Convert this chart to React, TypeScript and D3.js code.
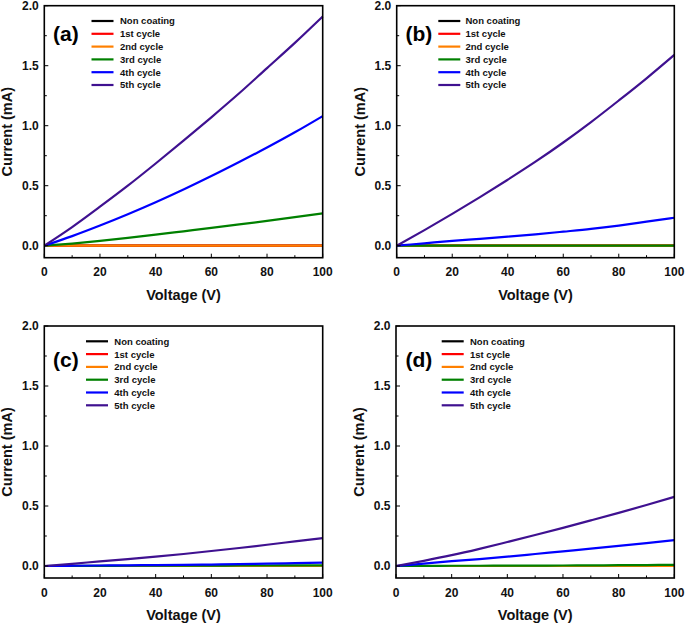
import React from "react";
import * as d3 from "d3";

const voltage = [0, 10, 20, 30, 40, 50, 60, 70, 80, 90, 100];
const seriesNames = ["Non coating", "1st cycle", "2nd cycle", "3rd cycle", "4th cycle", "5th cycle"];
const seriesColors = ["#000000", "#ff0000", "#ff8000", "#008000", "#0000ff", "#3f1190"];
const panelLabels = ["(a)", "(b)", "(c)", "(d)"];
const xTicks = [0, 20, 40, 60, 80, 100];
const xMinor = [10, 30, 50, 70, 90];
const yTicks = [0, 0.5, 1.0, 1.5, 2.0];
const yMinor = [0.25, 0.75, 1.25, 1.75];

const zero = [0, 0, 0, 0, 0, 0, 0, 0, 0, 0, 0];

// panel (a)
const aThird = [0, 0.018, 0.04, 0.065, 0.092, 0.12, 0.148, 0.177, 0.207, 0.238, 0.27];
const aFourth = [0, 0.08, 0.168, 0.262, 0.362, 0.468, 0.58, 0.697, 0.818, 0.945, 1.08];
const aFifth = [0, 0.155, 0.325, 0.5, 0.685, 0.875, 1.07, 1.27, 1.48, 1.69, 1.91];
// panel (b)
const bFourth = [0, 0.02, 0.04, 0.057, 0.075, 0.095, 0.117, 0.14, 0.168, 0.2, 0.233];
const bFifth = [0, 0.13, 0.265, 0.405, 0.55, 0.7, 0.86, 1.03, 1.21, 1.395, 1.59];
// panel (c)
const cThird = [0, 0.001, 0.001, 0.002, 0.002, 0.003, 0.003, 0.004, 0.004, 0.005, 0.005];
const cFourth = [0, 0.002, 0.004, 0.006, 0.007, 0.009, 0.012, 0.015, 0.02, 0.024, 0.028];
const cFifth = [0, 0.018, 0.039, 0.058, 0.078, 0.1, 0.125, 0.15, 0.177, 0.205, 0.233];
// panel (d)
const dThird = [0, 0.001, 0.002, 0.002, 0.003, 0.003, 0.004, 0.005, 0.007, 0.008, 0.01];
const dFourth = [0, 0.02, 0.04, 0.058, 0.078, 0.1, 0.122, 0.144, 0.167, 0.191, 0.216];
const dFifth = [0, 0.043, 0.09, 0.143, 0.2, 0.258, 0.318, 0.38, 0.443, 0.508, 0.576];

const panelData = [
  [zero, zero, zero, aThird, aFourth, aFifth],
  [zero, zero, zero, zero, bFourth, bFifth],
  [zero, zero, zero, cThird, cFourth, cFifth],
  [zero, zero, zero, dThird, dFourth, dFifth],
];

// layout (pixels)
const layouts = [
  { left: 44.3, right: 322.7, top: 5.7, legLine: 91.5, legText: 120, labelX: 53, labelDy: 35 },
  { left: 396.7, right: 674.3, top: 5.7, legLine: 438.3, legText: 465.5, labelX: 405.5, labelDy: 35 },
  { left: 44.3, right: 322.7, top: 326, legLine: 86, legText: 114.3, labelX: 53, labelDy: 40.5 },
  { left: 396, right: 674.3, top: 326, legLine: 441.7, legText: 470, labelX: 405.5, labelDy: 40.5 },
];

const FONT = "'Liberation Sans', Arial, sans-serif";

function Panel({ idx }: { idx: number }) {
  const L = layouts[idx];
  const bottom = L.top + 252;
  const x = d3.scaleLinear().domain([0, 100]).range([L.left, L.right]);
  const y = d3.scaleLinear().domain([-0.1, 2.0]).range([bottom, L.top]);
  const line = d3
    .line<number>()
    .x((_, i) => x(voltage[i]))
    .y((d) => y(d))
    .curve(d3.curveMonotoneX);
  const data = panelData[idx];
  const midX = (L.left + L.right) / 2;
  const midY = (L.top + bottom) / 2;
  return (
    <g>
      {data.map((vals, s) => (
        <path key={s} d={line(vals) || ""} fill="none" stroke={seriesColors[s]} strokeWidth={2.2} />
      ))}
      <rect x={L.left} y={L.top} width={L.right - L.left} height={bottom - L.top} fill="none" stroke="#000" strokeWidth={1.6} />
      {xTicks.map((t) => (
        <g key={"xt" + t}>
          <line x1={x(t)} x2={x(t)} y1={bottom} y2={bottom - 4} stroke="#000" strokeWidth={1} />
          <text x={x(t)} y={bottom + 18.5} textAnchor="middle" fontFamily={FONT} fontWeight="bold" fontSize={12} fill="#111">
            {t}
          </text>
        </g>
      ))}
      {xMinor.map((t) => (
        <line key={"xm" + t} x1={x(t)} x2={x(t)} y1={bottom} y2={bottom - 2.5} stroke="#000" strokeWidth={1} />
      ))}
      {yTicks.map((t) => (
        <g key={"yt" + t}>
          <line x1={L.left} x2={L.left + 4} y1={y(t)} y2={y(t)} stroke="#000" strokeWidth={1} />
          <text x={L.left - 5.5} y={y(t) + 4.2} textAnchor="end" fontFamily={FONT} fontWeight="bold" fontSize={12} fill="#111">
            {d3.format(".1f")(t)}
          </text>
        </g>
      ))}
      {yMinor.map((t) => (
        <line key={"ym" + t} x1={L.left} x2={L.left + 2.5} y1={y(t)} y2={y(t)} stroke="#000" strokeWidth={1} />
      ))}
      <text x={midX} y={bottom + 42} textAnchor="middle" fontFamily={FONT} fontWeight="bold" fontSize={14.5} fill="#111">
        Voltage (V)
      </text>
      <text
        transform={`translate(${L.left - 32},${midY}) rotate(-90)`}
        textAnchor="middle"
        fontFamily={FONT}
        fontWeight="bold"
        fontSize={14.5}
        fill="#111"
      >
        Current (mA)
      </text>
      <text x={L.labelX} y={L.top + L.labelDy} fontFamily={FONT} fontWeight="bold" fontSize={21} fill="#000">
        {panelLabels[idx]}
      </text>
      {seriesNames.map((name, s) => {
        const ry = L.top + 15.3 + s * 12.8;
        return (
          <g key={name}>
            <line x1={L.legLine} x2={L.legLine + 22} y1={ry} y2={ry} stroke={seriesColors[s]} strokeWidth={2.2} />
            <text x={L.legText} y={ry + 3.4} fontFamily={FONT} fontWeight="bold" fontSize={9.5} fill="#111">
              {name}
            </text>
          </g>
        );
      })}
    </g>
  );
}

export default function App() {
  return (
    <svg
      width={685}
      height={625}
      style={{ position: "absolute", left: 0, top: 0, background: "#fff" }}
    >
      <rect x={0} y={0} width={685} height={625} fill="#fff" />
      {[0, 1, 2, 3].map((i) => (
        <Panel key={i} idx={i} />
      ))}
    </svg>
  );
}
